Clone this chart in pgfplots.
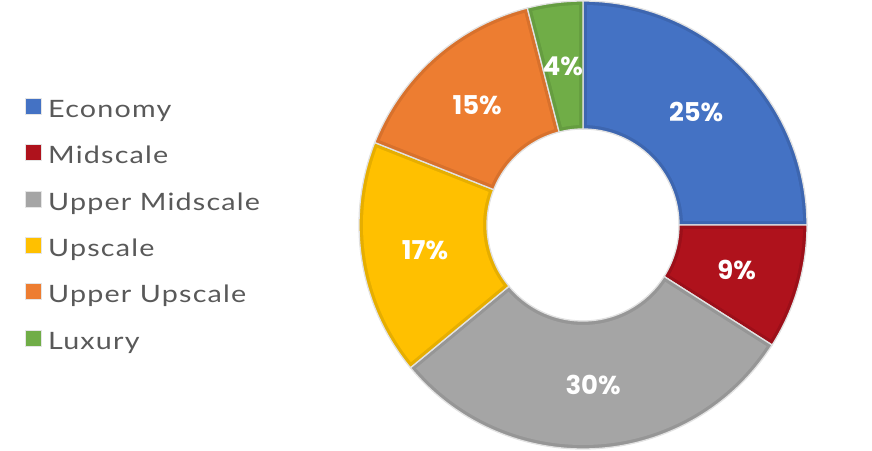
\documentclass[border=0pt]{standalone}
\usepackage{pgfplots}
\pgfplotsset{compat=1.18}
\usepackage{fontspec}
\setmainfont{Lato}[FakeStretch=1.2, LetterSpace=5]
\newfontfamily\lblfont{Poppins}
\definecolor{econ}{HTML}{4472C4}\definecolor{econD}{HTML}{3D66B0}
\definecolor{mids}{HTML}{AF121C}\definecolor{midsD}{HTML}{9C0F19}
\definecolor{umid}{HTML}{A5A5A5}\definecolor{umidD}{HTML}{969696}
\definecolor{upsc}{HTML}{FFC000}\definecolor{upscD}{HTML}{E6AE00}
\definecolor{uups}{HTML}{ED7D31}\definecolor{uupsD}{HTML}{D8712C}
\definecolor{luxu}{HTML}{70AD47}\definecolor{luxuD}{HTML}{659D40}
\definecolor{sep}{HTML}{E2E2E2}
\definecolor{legtext}{HTML}{595959}
% #1 start (percent), #2 value (percent), #3 fill, #4 border colour
\newcommand{\donutslice}[4]{%
 \pgfmathsetmacro{\sa}{3.6*#1}\pgfmathsetmacro{\sb}{3.6*(#1+#2)}%
 \addplot[forget plot, fill=#4, draw=none, domain=0:201, samples=202, variable=\t]
  ({583+(\t<100.5 ? 224 : 96)*sin(\t<100.5 ? \sa+(\sb-\sa)*\t/100 : \sb-(\sb-\sa)*(\t-101)/100)},
   {225-(\t<100.5 ? 224 : 96)*cos(\t<100.5 ? \sa+(\sb-\sa)*\t/100 : \sb-(\sb-\sa)*(\t-101)/100)}) -- cycle;
 \pgfmathsetmacro{\oa}{\sa+1.042}\pgfmathsetmacro{\ob}{\sb-1.042}%
 \pgfmathsetmacro{\ia}{\sa+2.292}\pgfmathsetmacro{\ib}{\sb-2.292}%
 \addplot[forget plot, fill=#3, draw=none, domain=0:201, samples=202, variable=\t]
  ({583+(\t<100.5 ? 220 : 100)*sin(\t<100.5 ? \oa+(\ob-\oa)*\t/100 : \ib-(\ib-\ia)*(\t-101)/100)},
   {225-(\t<100.5 ? 220 : 100)*cos(\t<100.5 ? \oa+(\ob-\oa)*\t/100 : \ib-(\ib-\ia)*(\t-101)/100)}) -- cycle;
 \addplot[forget plot, draw=sep, line width=1.3bp, fill=none, domain=0:201, samples=202, variable=\t]
  ({583+(\t<100.5 ? 224 : 96)*sin(\t<100.5 ? \sa+(\sb-\sa)*\t/100 : \sb-(\sb-\sa)*(\t-101)/100)},
   {225-(\t<100.5 ? 224 : 96)*cos(\t<100.5 ? \sa+(\sb-\sa)*\t/100 : \sb-(\sb-\sa)*(\t-101)/100)}) -- cycle;
 \node[text=white, font=\lblfont\bfseries\fontsize{26}{26}\selectfont, inner sep=0pt]
  at (axis cs:{583+160*sin(3.6*(#1+#2/2))},{225-160*cos(3.6*(#1+#2/2))}) {#2\%};
}
\begin{document}
\begin{tikzpicture}
\begin{axis}[
  width=872bp, height=451bp, scale only axis,
  xmin=0, xmax=872, ymin=0, ymax=451, y dir=reverse,
  hide axis, clip=false,
  legend style={at={(axis cs:22,96)}, anchor=north west, draw=none, fill=none,
    font=\fontsize{24}{24}\selectfont, text=legtext,
    nodes={inner sep=0pt, text height=17bp, text depth=5bp},
    row sep=21.8bp,
    /tikz/every odd column/.style={column sep=6bp}},
  legend cell align=left,
  legend image code/.code={\draw[#1, line width=1bp] (0bp,-3bp) rectangle (16bp,13bp);},
]
\addplot[forget plot, draw=none] coordinates {(0,0) (872,451)};
% start, value
\donutslice{0}{25}{econ}{econD}
\donutslice{25}{9}{mids}{midsD}
\donutslice{34}{30}{umid}{umidD}
\donutslice{64}{17}{upsc}{upscD}
\donutslice{81}{15}{uups}{uupsD}
\donutslice{96}{4}{luxu}{luxuD}
\addlegendimage{fill=econ, draw=black!10}\addlegendentry{Economy}
\addlegendimage{fill=mids, draw=black!10}\addlegendentry{Midscale}
\addlegendimage{fill=umid, draw=black!10}\addlegendentry{Upper Midscale}
\addlegendimage{fill=upsc, draw=black!10}\addlegendentry{Upscale}
\addlegendimage{fill=uups, draw=black!10}\addlegendentry{Upper Upscale}
\addlegendimage{fill=luxu, draw=black!10}\addlegendentry{Luxury}
\end{axis}
\end{tikzpicture}
\end{document}
